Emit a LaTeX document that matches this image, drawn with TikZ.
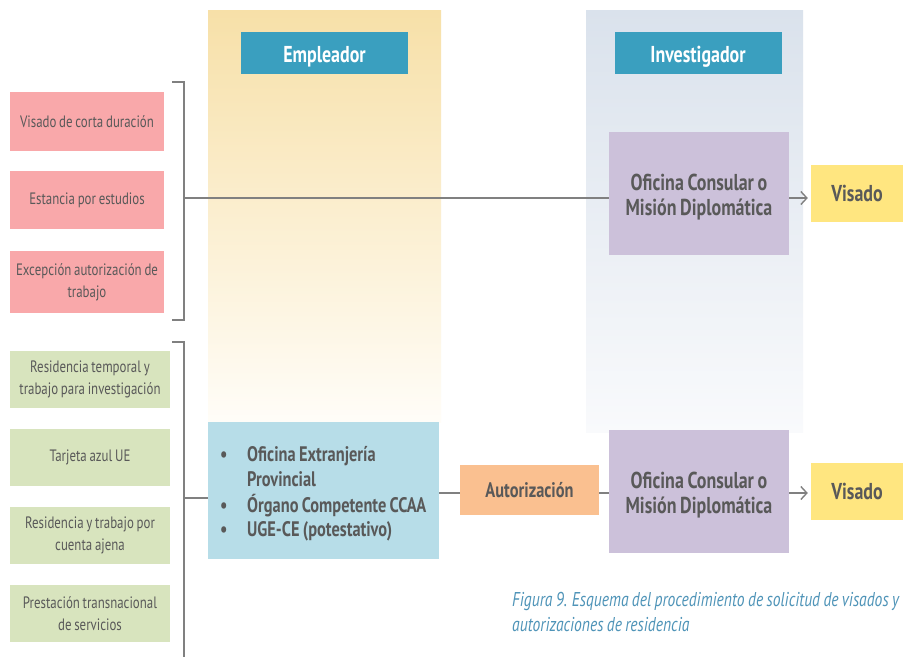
\documentclass[tikz,border=0pt]{standalone}
\usepackage{fontspec}
\setmainfont[FakeStretch=0.78,WordSpace=0.8]{PT Sans}
\usetikzlibrary{arrows.meta}
\definecolor{pinkc}{HTML}{F9A8AA}
\definecolor{greenc}{HTML}{D8E4BE}
\definecolor{bluec}{HTML}{B7DDE8}
\definecolor{hdrc}{HTML}{3A9FBF}
\definecolor{purc}{HTML}{CCC1DA}
\definecolor{orc}{HTML}{FAC090}
\definecolor{yelc}{HTML}{FFE680}
\definecolor{txtc}{HTML}{595959}
\definecolor{capc}{HTML}{4F94B8}
\definecolor{linec}{HTML}{808080}
\definecolor{empTop}{HTML}{F7E0A8}
\definecolor{empBot}{HTML}{FFFDF8}
\definecolor{invTop}{HTML}{DAE2EC}
\definecolor{invBot}{HTML}{F9FAFC}
\begin{document}
\begin{tikzpicture}[x=1pt,y=-1pt,
  box/.style={inner sep=0pt, align=center, text=txtc},
  smallbox/.style={box, font=\fontsize{16.5}{22}\selectfont},
  pinkbox/.style={smallbox, fill=pinkc, minimum width=154},
  greenbox/.style={smallbox, fill=greenc, minimum width=160, minimum height=57},
  hdr/.style={box, fill=hdrc, text=white, font=\fontsize{23}{26}\selectfont\bfseries, minimum width=167, minimum height=42, text height=19pt, text depth=0pt},
  plain/.style={inner sep=0pt, align=center, text=txtc},
  bigtxt/.style={plain, font=\fontsize{23}{25}\selectfont\bfseries},
  conn/.style={draw=linec, line width=1.4pt},
  arr/.style={conn, -{Straight Barb[length=6pt,width=13pt,line width=1.4pt]}, shorten >=3pt},
  capt/.style={inner sep=0pt, align=left, text=capc, font=\fontsize{20}{25}\selectfont\itshape}
]
\useasboundingbox (0,0) rectangle (903,657);
\fill[white] (0,0) rectangle (903,657);
% columns
\shade[top color=empTop, bottom color=empBot] (208,10) rectangle (441,422);
\shade[top color=invTop, bottom color=invBot] (586,10) rectangle (803,432);
% headers
\node[hdr] (hemp) at (324.5,53) {Empleador};
\node[hdr] (hinv) at (698,53) {Investigador};
% pink boxes
\node[pinkbox, minimum height=59] (p1) at (87,121.5) {Visado de corta duración};
\node[pinkbox, minimum height=58] (p2) at (87,200) {Estancia por estudios};
\node[pinkbox, minimum height=62] (p3) at (87,282) {Excepción autorización de\\trabajo};
% green boxes
\node[greenbox] (g1) at (90,379.5) {Residencia temporal y\\trabajo para investigación};
\node[greenbox] (g2) at (90,457.5) {Tarjeta azul UE};
\node[greenbox] (g3) at (90,535.5) {Residencia y trabajo por\\cuenta ajena};
\node[greenbox] (g4) at (90,613.5) {Prestación transnacional\\de servicios};
% brackets
\coordinate (b1a) at (172,82);
\coordinate (b1b) at (184,82);
\coordinate (b1c) at (184,320);
\coordinate (b1d) at (172,320);
\coordinate (b1mid) at (184,198);
\draw[conn] (b1a) -- (b1b) -- (b1c) -- (b1d);
\coordinate (b2a) at (172,342);
\coordinate (b2b) at (184,342);
\coordinate (b2c) at (184,657);
\coordinate (b2mid) at (184,498);
\draw[conn] (b2a) -- (b2b) -- (b2c);
% purple boxes
\node[plain, fill=purc, minimum width=180, minimum height=123] (o1) at (699,193.5) {};
\node[bigtxt] (o1t) at (699,197) {Oficina Consular o\\Misión Diplomática};
\node[plain, fill=purc, minimum width=180, minimum height=123] (o2) at (699,491.5) {};
\node[bigtxt] (o2t) at (699,495) {Oficina Consular o\\Misión Diplomática};
% visado boxes
\node[bigtxt, fill=yelc, minimum width=92, minimum height=57] (v1) at (857,193.5) {Visado};
\node[bigtxt, fill=yelc, minimum width=92, minimum height=57] (v2) at (857,491.5) {Visado};
% employer box
\node[plain, fill=bluec, minimum width=231, minimum height=137] (emp) at (323.5,490.5) {};
\node[plain, anchor=west, font=\fontsize{21}{24.7}\selectfont\bfseries] (empt) at (220,494.5)
  {\begin{tabular}{@{}p{27pt}@{}p{190pt}@{}}
   \textbullet & Oficina Extranjería\\
               & Provincial\\
   \textbullet & Órgano Competente CCAA\\
   \textbullet & UGE-CE (potestativo)
   \end{tabular}};
% autorizacion
\node[plain, fill=orc, minimum width=139, minimum height=50, font=\fontsize{21}{24}\selectfont\bfseries] (aut) at (529.5,490) {Autorización};
% connectors
\coordinate (r2) at (450,493);
\draw[conn] (b1mid) -- (b1mid -| o1.west);
\draw[arr] (b1mid -| o1.east) -- (b1mid -| v1.west);
\draw[conn] (b2mid) -- (b2mid -| emp.west);
\draw[conn] (r2 -| emp.east) -- (r2 -| aut.west);
\draw[conn] (r2 -| aut.east) -- (r2 -| o2.west);
\draw[arr] (r2 -| o2.east) -- (r2 -| v2.west);
% caption
\node[capt, anchor=north west] (cap) at (512,592) {Figura 9. Esquema del procedimiento de solicitud de visados y\\autorizaciones de residencia};
\end{tikzpicture}
\end{document}
